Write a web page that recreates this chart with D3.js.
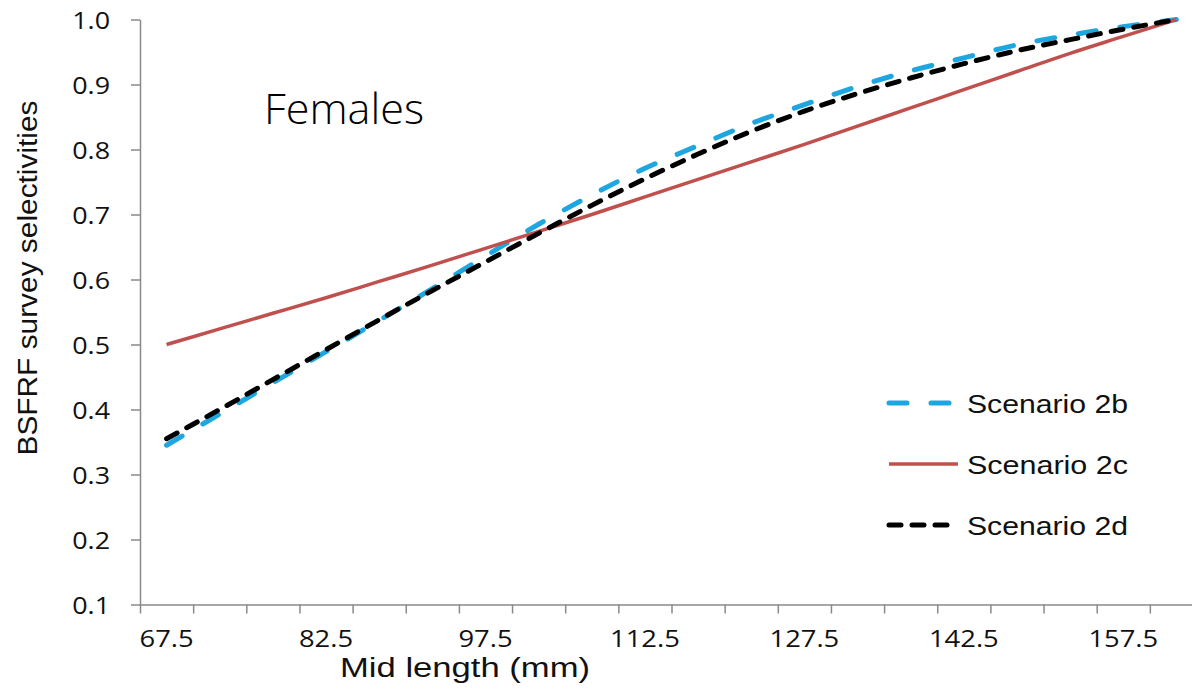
<!DOCTYPE html>
<html>
<head>
<meta charset="utf-8">
<script src="https://cdn.jsdelivr.net/npm/d3@7"></script>
<style>
  html, body { margin: 0; padding: 0; background: #fff; }
  svg { display: block; }
</style>
</head>
<body>
<svg id="chart" width="1192" height="689"></svg>
<script>
const categories = ["67.5","72.5","77.5","82.5","87.5","92.5","97.5","102.5","107.5","112.5",
                    "117.5","122.5","127.5","132.5","137.5","142.5","147.5","152.5","157.5","162.5"];
const scenario2b = [0.345,0.393,0.441,0.489,0.537,0.586,0.636,0.685,0.730,0.771,
                    0.806,0.840,0.869,0.897,0.921,0.941,0.961,0.976,0.989,1.0];
const scenario2c = [0.500,0.524,0.548,0.572,0.597,0.622,0.648,0.674,0.700,0.727,
                    0.754,0.781,0.808,0.836,0.864,0.892,0.920,0.948,0.974,1.0];
const scenario2d = [0.355,0.400,0.446,0.492,0.538,0.583,0.627,0.671,0.714,0.755,
                    0.793,0.828,0.859,0.886,0.910,0.932,0.952,0.969,0.985,1.0];
const yTickValues = [0.1,0.2,0.3,0.4,0.5,0.6,0.7,0.8,0.9,1.0];
const xTickLabels = ["67.5","82.5","97.5","112.5","127.5","142.5","157.5"];
const seriesNames = ["Scenario 2b","Scenario 2c","Scenario 2d"];

(function () {
const svg = d3.select("#chart");
const plotLeft = 140, plotRight = 1203, plotTop = 19.5, plotBottom = 604.5;
const axisColor = "#8a8a8a";

const x = d3.scaleBand().domain(categories).range([plotLeft, plotRight]).paddingInner(0).paddingOuter(0);
const xIdx = d3.scaleLinear().domain([0, categories.length]).range([plotLeft, plotRight]);
const y = d3.scaleLinear().domain([0.1, 1.0]).range([plotBottom, plotTop]);

function stretch(sel, k) {
  sel.each(function() {
    const n = this.getComputedTextLength();
    d3.select(this).attr("textLength", n * k).attr("lengthAdjust", "spacingAndGlyphs");
  });
}

// Y axis
const gy = svg.append("g").attr("transform", `translate(${plotLeft},0)`)
  .call(d3.axisLeft(y).tickValues(yTickValues).tickFormat(d3.format(".1f")).tickSize(9).tickSizeOuter(0).tickPadding(21));
gy.select(".domain").attr("stroke", axisColor).attr("stroke-width", 1.5);
gy.selectAll(".tick line").attr("stroke", axisColor).attr("stroke-width", 1.5);
gy.selectAll(".tick text").attr("font-family", "'Open Sans', sans-serif").attr("font-size", 24)
  .attr("fill", "#111").attr("dy", "0.36em").call(stretch, 1.12);

// X axis (tick marks at category boundaries)
const gx = svg.append("g").attr("transform", `translate(0,${plotBottom})`)
  .call(d3.axisBottom(xIdx).tickValues(d3.range(0, categories.length + 1)).tickFormat("").tickSize(9).tickSizeOuter(0));
gx.select(".domain").attr("stroke", axisColor).attr("stroke-width", 1.5);
gx.selectAll(".tick line").attr("stroke", axisColor).attr("stroke-width", 1.5);

// X labels at category centres (every third)
const gxl = svg.append("g").attr("transform", `translate(0,${plotBottom})`)
  .call(d3.axisBottom(x).tickValues(xTickLabels).tickSize(0).tickPadding(30));
gxl.select(".domain").remove();
gxl.selectAll(".tick text").attr("font-family", "'Open Sans', sans-serif").attr("font-size", 24)
  .attr("fill", "#111").attr("dy", "0.5em").call(stretch, 1.14);

// Axis titles
svg.append("text").attr("transform", "translate(37,278) rotate(-90)")
  .attr("text-anchor", "middle").attr("font-family", "'Liberation Sans', Arial, sans-serif")
  .attr("font-size", 27).attr("fill", "#111").text("BSFRF survey selectivities")
  .attr("textLength", 355).attr("lengthAdjust", "spacingAndGlyphs");
svg.append("text").attr("x", 465).attr("y", 677)
  .attr("text-anchor", "middle").attr("font-family", "'Liberation Sans', Arial, sans-serif")
  .attr("font-size", 27).attr("fill", "#111").text("Mid length (mm)")
  .attr("textLength", 250).attr("lengthAdjust", "spacingAndGlyphs");

// Panel title
svg.append("text").attr("x", 264).attr("y", 124)
  .attr("font-family", "'Open Sans', sans-serif").attr("font-weight", 300)
  .attr("font-size", 43).attr("fill", "#000").text("Females")
  .attr("textLength", 160).attr("lengthAdjust", "spacingAndGlyphs");

// Lines
const line = d3.line()
  .x((d, i) => x(categories[i]) + x.bandwidth() / 2)
  .y(d => y(d))
  .curve(d3.curveMonotoneX);

const styles = [
  {data: scenario2b, color: "#1ea6e0", width: 5, dash: "18,24", cap: "round"},
  {data: scenario2c, color: "#c0504d", width: 3.5, dash: null, cap: "butt"},
  {data: scenario2d, color: "#000000", width: 5, dash: "12,11", cap: "round"}
];

styles.forEach(s => {
  svg.append("path").datum(s.data)
    .attr("d", line).attr("fill", "none")
    .attr("stroke", s.color).attr("stroke-width", s.width)
    .attr("stroke-linecap", s.cap)
    .attr("stroke-dasharray", s.dash);
});

// Legend
const legendY = [403, 464, 525];
styles.forEach((s, i) => {
  svg.append("line").attr("x1", 889).attr("x2", 958)
    .attr("y1", legendY[i]).attr("y2", legendY[i])
    .attr("stroke", s.color).attr("stroke-width", s.width)
    .attr("stroke-linecap", s.cap).attr("stroke-dasharray", s.dash);
  svg.append("text").attr("x", 967).attr("y", legendY[i] + 10)
    .attr("font-family", "'Liberation Sans', Arial, sans-serif").attr("font-size", 26)
    .attr("fill", "#111").text(seriesNames[i])
    .attr("textLength", 161).attr("lengthAdjust", "spacingAndGlyphs");
});
})();
</script>
</body>
</html>
